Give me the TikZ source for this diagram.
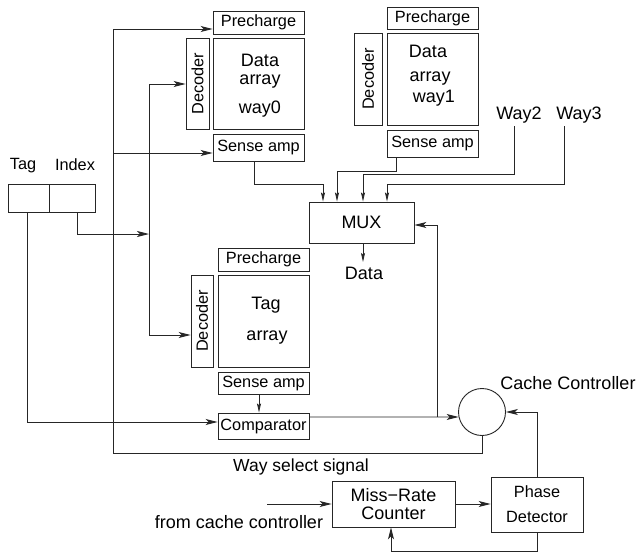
\documentclass[tikz,border=0pt]{standalone}
\usepackage{fontspec}
\usepackage{graphicx}
\setmainfont{Liberation Sans}
\usetikzlibrary{arrows.meta}
\begin{document}
\begin{tikzpicture}[x=1pt,y=-1pt,
  wire/.style={draw=black!85, line width=0.9pt},
  bigarr/.style={wire, -{Stealth[length=12pt,width=6pt,inset=3pt]}},
  smallarr/.style={wire, -{Stealth[length=9pt,width=4pt,inset=1.5pt]}},
  blk/.style={draw=black!85, line width=0.9pt, inner sep=0pt, font=\fontsize{16.3}{19}\selectfont},
  lbl/.style={inner sep=0pt, font=\fontsize{18}{21}\selectfont},
  blbl/.style={lbl, anchor=base},
  slbl/.style={inner sep=0pt, font=\fontsize{16.3}{19}\selectfont}]

\path[use as bounding box, fill=white] (0,0) rectangle (637,554);

% ---- data array, way 0 ----
\node[blk, minimum width=91pt, minimum height=23pt] (pre0) at (258.5,22.5) {Precharge};
\node[blk, minimum width=23pt, minimum height=91pt] (dec0) at (197.5,83.5) {\rotatebox{90}{Decoder}};
\node[blk, minimum width=91pt, minimum height=91pt] (arr0) at (258.5,83.5) {};
\node[blbl] (arr0a) at (260,66) {Data};
\node[blbl] (arr0b) at (260,84.5) {array};
\node[blbl] (arr0c) at (260,113) {way0};
\node[blk, minimum width=91pt, minimum height=27pt] (sa0) at (258.5,147.5) {Sense amp};

% ---- data array, way 1 ----
\node[blk, minimum width=91pt, minimum height=22pt] (pre1) at (432.5,18) {Precharge};
\node[blk, minimum width=28pt, minimum height=92pt] (dec1) at (368,79) {\rotatebox{90}{Decoder}};
\node[blk, minimum width=91pt, minimum height=92pt] (arr1) at (432.5,79) {};
\node[blbl] (arr1a) at (428,57) {Data};
\node[blbl] (arr1b) at (430,81.5) {array};
\node[blbl] (arr1c) at (434,102.5) {way1};
\node[blk, minimum width=91pt, minimum height=27pt] (sa1) at (432.5,143.5) {Sense amp};

% ---- tag array ----
\node[blk, minimum width=91pt, minimum height=23pt] (pre2) at (263.5,259.5) {Precharge};
\node[blk, minimum width=22pt, minimum height=92pt] (dec2) at (202,321) {\rotatebox{90}{Decoder}};
\node[blk, minimum width=91pt, minimum height=92pt] (arr2) at (263.5,321) {};
\node[blbl] (arr2a) at (266,309) {Tag};
\node[blbl] (arr2b) at (267,340) {array};
\node[blk, minimum width=91pt, minimum height=22pt] (sa2) at (263.5,383) {Sense amp};
\node[blk, minimum width=91pt, minimum height=26pt] (comp) at (263.5,426) {Comparator};

% ---- address register ----
\node[slbl] (tagl) at (23,166) {Tag};
\node[slbl] (idxl) at (75,165) {Index};
\node[blk, minimum width=41pt, minimum height=28pt] (tagc) at (28.5,198) {};
\node[blk, minimum width=46pt, minimum height=28pt] (idxc) at (72,198) {};

% ---- multiplexer and outputs ----
\node[blk, minimum width=105pt, minimum height=41pt, font=\fontsize{18}{21}\selectfont] (mux) at (361.5,222.5) {MUX};
\node[lbl] (dout) at (364,273) {Data};
\node[lbl] (w2) at (519,115) {Way2};
\node[lbl] (w3) at (579,115) {Way3};

% ---- control ----
\node[draw=black!85, line width=0.9pt, circle, minimum size=47pt, inner sep=0pt] (cc) at (482,412) {};
\node[lbl] (ccl) at (568,383) {Cache Controller};
\node[blk, minimum width=123pt, minimum height=46pt, align=center, font=\fontsize{18}{18}\selectfont] (mr) at (393.5,504) {Miss\textminus Rate\\Counter};
\node[blk, minimum width=92pt, minimum height=55pt, align=center] (pd) at (537,504.5) {Phase\\[6pt]Detector};
\node[inner sep=0pt, font=\fontsize{17.5}{20}\selectfont] (wsl) at (301,467) {Way select signal};
\node[lbl] (fcc) at (239,522) {from cache controller};

% ---- way select signal ----
\coordinate (ws0) at (482,453);
\coordinate (ws1) at (113,453);
\coordinate (ws2) at (113,29);
\coordinate (ws3) at (113,153);
\draw[bigarr] (cc.south) -- (ws0) -- (ws1) -- (ws2) -- (ws2 -| pre0.west);
\draw[bigarr] (ws3) -- (ws3 -| sa0.west);

% ---- index to decoders ----
\coordinate (ix0) at (77,212);
\coordinate (ix1) at (77,234);
\coordinate (dv0) at (149,234);
\coordinate (dv1) at (149,84);
\coordinate (dv2) at (149,335);
\draw[bigarr] (ix0) -- (ix1) -- (dv0);
\draw[wire] (dv1) -- (dv2);
\draw[bigarr] (dv1) -- (dv1 -| dec0.west);
\draw[bigarr] (dv2) -- (dv2 -| dec2.west);

% ---- tag compare ----
\coordinate (tg0) at (27,212);
\coordinate (tg1) at (27,422);
\draw[bigarr] (tg0) -- (tg1) -- (tg1 -| comp.west);
\coordinate (sc) at (259,394);
\draw[smallarr] (sc) -- (sc |- comp.north);
\coordinate (co0) at (309,417);
\coordinate (co1) at (437,417);
\coordinate (co2) at (437,225);
\draw[bigarr] (co0) -- (cc.192);
\draw[bigarr] (co1) -- (co2) -- (co2 -| mux.east);

% ---- multiplexer inputs ----
\coordinate (a0) at (254,161);
\coordinate (a1) at (254,184);
\coordinate (a2) at (323,184);
\draw[smallarr] (a0) -- (a1) -- (a2) -- (a2 |- mux.north);
\coordinate (b0) at (396,157);
\coordinate (b1) at (396,171);
\coordinate (b2) at (337,171);
\draw[smallarr] (b0) -- (b1) -- (b2) -- (b2 |- mux.north);
\coordinate (c0) at (514,126);
\coordinate (c1) at (514,174);
\coordinate (c2) at (363,174);
\draw[smallarr] (c0) -- (c1) -- (c2) -- (c2 |- mux.north);
\coordinate (d0) at (564,126);
\coordinate (d1) at (564,184);
\coordinate (d2) at (387,184);
\draw[smallarr] (d0) -- (d1) -- (d2) -- (d2 |- mux.north);
\coordinate (mo0) at (363,243);
\coordinate (mo1) at (363,262);
\draw[smallarr] (mo0) -- (mo1);

% ---- phase detection loop ----
\coordinate (pd0) at (537,412);
\draw[bigarr] (pd.north) -- (pd0) -- (cc.east);
\coordinate (pd1) at (537,551);
\coordinate (pd2) at (391,551);
\draw[bigarr] (pd.south) -- (pd1) -- (pd2) -- (pd2 |- mr.south);
\coordinate (in0) at (267,504);
\draw[bigarr] (in0) -- (in0 -| mr.west);
\draw[bigarr] (mr.east) -- (mr.east -| pd.west);
\end{tikzpicture}
\end{document}
